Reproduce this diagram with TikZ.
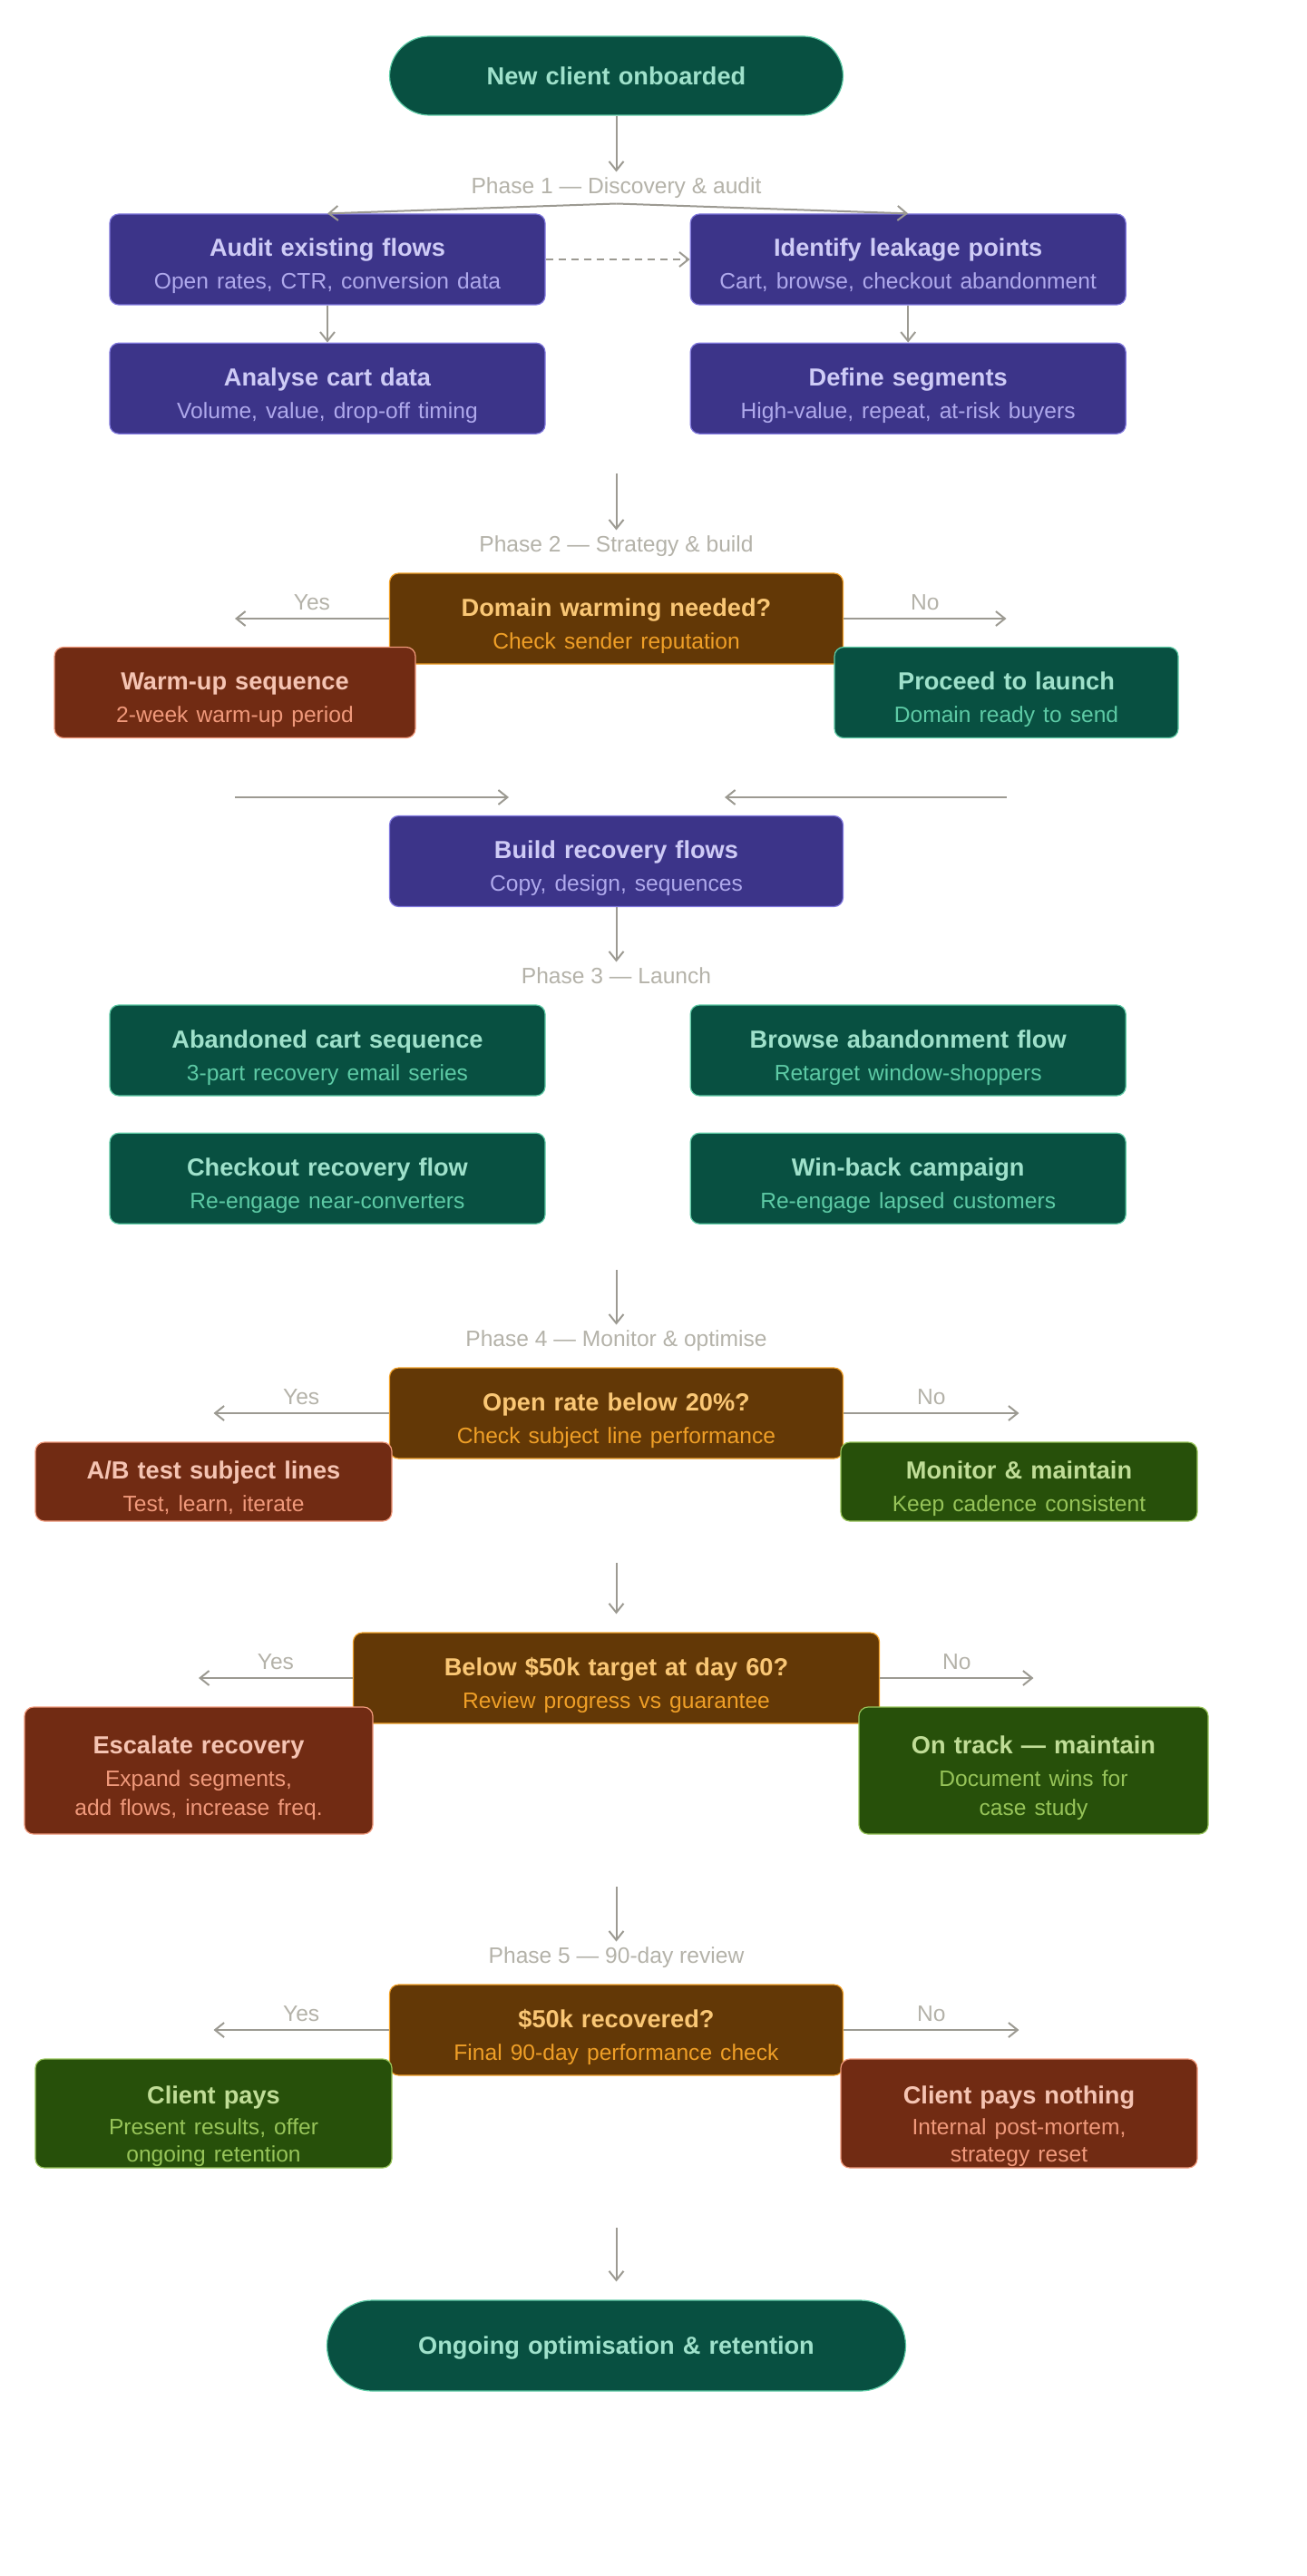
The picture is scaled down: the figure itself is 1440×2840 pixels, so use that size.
\documentclass[tikz,border=0pt]{standalone}
\usepackage{fontspec}
\setmainfont{Liberation Sans}
\usepackage{xcolor}
\usepackage{tikz}
\usetikzlibrary{arrows.meta, positioning, calc}

\definecolor{tealfill}{HTML}{085041}
\definecolor{tealline}{HTML}{5DCAA5}
\definecolor{tealtitle}{HTML}{9FE1CB}
\definecolor{tealsub}{HTML}{5DCAA5}
\definecolor{purplefill}{HTML}{3C3489}
\definecolor{purpleline}{HTML}{7F77DD}
\definecolor{purpletitle}{HTML}{CECBF6}
\definecolor{purplesub}{HTML}{AFA9EC}
\definecolor{amberfill}{HTML}{633806}
\definecolor{amberline}{HTML}{EF9F27}
\definecolor{ambertitle}{HTML}{FAC775}
\definecolor{ambersub}{HTML}{EF9F27}
\definecolor{coralfill}{HTML}{712B13}
\definecolor{coralline}{HTML}{F0997B}
\definecolor{coraltitle}{HTML}{F5C4B3}
\definecolor{coralsub}{HTML}{F0997B}
\definecolor{greenfill}{HTML}{27500A}
\definecolor{greenline}{HTML}{97C459}
\definecolor{greentitle}{HTML}{C0DD97}
\definecolor{greensub}{HTML}{97C459}
\definecolor{linegray}{HTML}{9C9A92}
\definecolor{phasegray}{HTML}{B4B2A9}
\colorlet{subc}{black}

\newcommand{\subline}[1]{{\mdseries\fontsize{12.3}{18}\selectfont\color{subc}#1\rule[-3pt]{0pt}{3pt}}}

\begin{document}
\begin{tikzpicture}[
    x=0.5pt, y=-0.5pt,
    box/.style={rectangle, rounded corners=5pt, line width=0.6pt, text centered, inner sep=0pt, text height=18pt, minimum height=50pt, font=\fontsize{13.6}{18}\selectfont\bfseries},
    tealbox/.style={box, fill=tealfill, draw=tealline, text=tealtitle, execute at begin node={\colorlet{subc}{tealsub}}},
    purplebox/.style={box, fill=purplefill, draw=purpleline, text=purpletitle, execute at begin node={\colorlet{subc}{purplesub}}},
    amberbox/.style={box, fill=amberfill, draw=amberline, text=ambertitle, execute at begin node={\colorlet{subc}{ambersub}}},
    coralbox/.style={box, fill=coralfill, draw=coralline, text=coraltitle, execute at begin node={\colorlet{subc}{coralsub}}},
    greenbox/.style={box, fill=greenfill, draw=greenline, text=greentitle, execute at begin node={\colorlet{subc}{greensub}}},
    pill/.style={tealbox, rounded corners=22pt, text height=9.8pt, text depth=0pt},
    wide/.style={text width=250pt, minimum height=50pt},
    col/.style={text width=240pt, minimum height=50pt},
    phase/.style={font=\fontsize{12.3}{14}\selectfont, text=phasegray, inner sep=0pt, text height=9pt, text depth=2.5pt, outer sep=3pt},
    choice/.style={font=\fontsize{12.3}{14}\selectfont, text=phasegray, inner sep=4pt},
    arrow/.style={-{Straight Barb[length=5pt,width=8pt]}, line width=1pt, draw=linegray},
    dasharrow/.style={arrow, dash pattern=on 4pt off 3pt}
]
\useasboundingbox (0,0) rectangle (1440,2840);

% Start
\node[pill, text width=250pt, minimum height=43.5pt] (start) at (679.5,83.5) {New client onboarded};

% Phase 1: discovery
\node[phase] (phase1) at (679.5,207) {Phase 1 — Discovery \& audit};
\node[purplebox, col] (audit) at (361,286) {Audit existing flows\\\subline{Open rates, CTR, conversion data}};
\node[purplebox, col, right=79.5pt of audit] (leak) {Identify leakage points\\\subline{Cart, browse, checkout abandonment}};
\node[purplebox, col, below=20.5pt of audit] (cartdata) {Analyse cart data\\\subline{Volume, value, drop-off timing}};
\node[purplebox, col, below=20.5pt of leak] (segments) {Define segments\\\subline{High-value, repeat, at-risk buyers}};

% Phase 2: strategy
\coordinate (p2in) at (679.5,522);
\node[phase] (phase2) at (679.5,602) {Phase 2 — Strategy \& build};
\node[amberbox, wide] (warming) at (679.5,682) {Domain warming needed?\\\subline{Check sender reputation}};
\node[coralbox, text width=199pt] (warmup) at (259,763.5) {Warm-up sequence\\\subline{2-week warm-up period}};
\node[tealbox, text width=189.5pt] (proceed) at (1109.5,763.5) {Proceed to launch\\\subline{Domain ready to send}};
\node[purplebox, wide] (build) at (679.5,949.5) {Build recovery flows\\\subline{Copy, design, sequences}};
\coordinate (warmout) at (259,879);
\coordinate (buildinl) at (561,879);
\coordinate (proceedout) at (1109.5,879);
\coordinate (buildinr) at (799,879);

% Phase 3: launch
\node[phase] (phase3) at (679.5,1078) {Phase 3 — Launch};
\node[tealbox, col] (cartseq) at (361,1158) {Abandoned cart sequence\\\subline{3-part recovery email series}};
\node[tealbox, col, right=79.5pt of cartseq] (browse) {Browse abandonment flow\\\subline{Retarget window-shoppers}};
\node[tealbox, col, below=20pt of cartseq] (checkout) {Checkout recovery flow\\\subline{Re-engage near-converters}};
\node[tealbox, col, below=20pt of browse] (winback) {Win-back campaign\\\subline{Re-engage lapsed customers}};

% Phase 4: monitor
\coordinate (p4in) at (679.5,1400);
\node[phase] (phase4) at (679.5,1478) {Phase 4 — Monitor \& optimise};
\node[amberbox, wide] (openrate) at (679.5,1558) {Open rate below 20\%?\\\subline{Check subject line performance}};
\node[coralbox, text width=196.5pt, minimum height=43.5pt] (abtest) at (235.5,1633.5) {A/B test subject lines\\\subline{Test, learn, iterate}};
\node[greenbox, text width=196.5pt, minimum height=43.5pt] (monitor) at (1123.5,1633.5) {Monitor \& maintain\\\subline{Keep cadence consistent}};

% Day 60 check
\coordinate (d60in) at (679.5,1723);
\node[amberbox, text width=290pt] (day60) at (679.5,1850) {Below \$50k target at day 60?\\\subline{Review progress vs guarantee}};
\node[coralbox, text width=192pt, minimum height=70pt] (escalate) at (219,1952) {Escalate recovery\\\subline{Expand segments,}\\[-2pt]\subline{add flows, increase freq.}};
\node[greenbox, text width=192.5pt, minimum height=70pt] (ontrack) at (1139.5,1952) {On track — maintain\\\subline{Document wins for}\\[-2pt]\subline{case study}};

% Phase 5: review
\coordinate (p5in) at (679.5,2080);
\node[phase] (phase5) at (679.5,2158) {Phase 5 — 90-day review};
\node[amberbox, wide] (recovered) at (679.5,2238) {\$50k recovered?\\\subline{Final 90-day performance check}};
\node[greenbox, text width=196.5pt, minimum height=60pt, text height=24pt] (pays) at (235.5,2330) {Client pays\\[-1pt]\subline{Present results, offer}\\[-3pt]\subline{ongoing retention}};
\node[coralbox, text width=196.5pt, minimum height=60pt, text height=24pt] (nopay) at (1123.5,2330) {Client pays nothing\\[-1pt]\subline{Internal post-mortem,}\\[-3pt]\subline{strategy reset}};

% End
\coordinate (endin) at (679.5,2456);
\node[pill, text width=319pt, minimum height=50pt, rounded corners=25pt] (finish) at (679.5,2586) {Ongoing optimisation \& retention};

% Connectors
\draw[arrow] (start) -- (phase1);
\draw[arrow] (phase1.south) -- (audit.north);
\draw[arrow] (phase1.south) -- (leak.north);
\draw[dasharrow] (audit) -- (leak);
\draw[arrow] (audit) -- (cartdata);
\draw[arrow] (leak) -- (segments);

\draw[arrow] (p2in) -- (phase2);
\draw[arrow] (warming.west) -- node[choice, above] {Yes} (warming.west -| warmup.center);
\draw[arrow] (warming.east) -- node[choice, above] {No} (warming.east -| proceed.center);
\draw[arrow] (warmout) -- (buildinl);
\draw[arrow] (proceedout) -- (buildinr);
\draw[arrow] (build) -- (phase3);

\draw[arrow] (p4in) -- (phase4);
\draw[arrow] (openrate.west) -- node[choice, above] {Yes} (openrate.west -| abtest.center);
\draw[arrow] (openrate.east) -- node[choice, above] {No} (openrate.east -| monitor.center);

\draw[arrow, shorten >=10pt] (d60in) -- (day60);
\draw[arrow] (day60.west) -- node[choice, above] {Yes} (day60.west -| escalate.center);
\draw[arrow] (day60.east) -- node[choice, above] {No} (day60.east -| ontrack.center);

\draw[arrow] (p5in) -- (phase5);
\draw[arrow] (recovered.west) -- node[choice, above] {Yes} (recovered.west -| pays.center);
\draw[arrow] (recovered.east) -- node[choice, above] {No} (recovered.east -| nopay.center);

\draw[arrow, shorten >=10pt] (endin) -- (finish);

\end{tikzpicture}
\end{document}
